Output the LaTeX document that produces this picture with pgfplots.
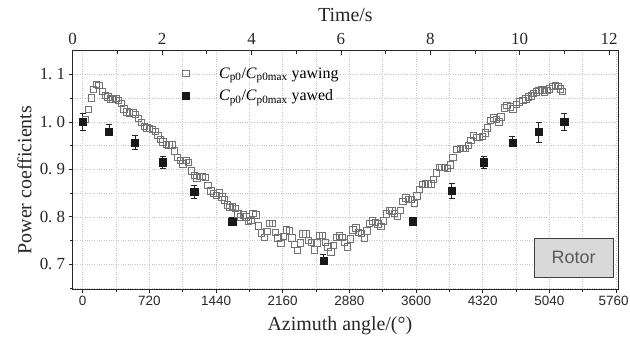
\documentclass[border=0pt]{standalone}
\usepackage{pgfplots}
\pgfplotsset{compat=1.18}
\usepackage{pgfplotstable}
\usepackage{fontspec}
\setmainfont{Liberation Serif}
\setsansfont{Liberation Sans}

\pgfplotstableread{
x y
25 1.005
61 1.027
90 1.051
115 1.069
144 1.079
176 1.077
212 1.065
241 1.056
270 1.053
295 1.049
324 1.048
356 1.050
385 1.046
414 1.039
446 1.028
475 1.021
503 1.019
540 1.020
565 1.016
601 1.008
630 0.999
662 0.991
691 0.988
720 0.987
752 0.984
781 0.980
810 0.972
835 0.963
864 0.958
900 0.953
929 0.952
961 0.952
990 0.939
1022 0.925
1051 0.919
1080 0.912
1112 0.919
1141 0.915
1170 0.897
1202 0.888
1231 0.882
1259 0.886
1292 0.886
1321 0.883
1350 0.867
1382 0.855
1411 0.849
1440 0.846
1472 0.851
1501 0.842
1530 0.836
1559 0.825
1588 0.820
1617 0.822
1646 0.818
1675 0.806
1704 0.800
1733 0.804
1762 0.800
1791 0.790
1814 0.793
1836 0.807
1868 0.804
1897 0.781
1926 0.766
1958 0.757
1987 0.770
2016 0.786
2048 0.786
2077 0.768
2106 0.756
2138 0.744
2167 0.759
2196 0.773
2228 0.771
2257 0.756
2286 0.742
2318 0.730
2347 0.745
2376 0.764
2408 0.764
2437 0.751
2466 0.747
2498 0.731
2527 0.745
2556 0.761
2588 0.761
2617 0.746
2646 0.737
2678 0.726
2707 0.740
2736 0.757
2768 0.760
2797 0.757
2826 0.747
2858 0.737
2887 0.754
2916 0.773
2948 0.777
2977 0.768
3006 0.765
3038 0.756
3067 0.771
3096 0.787
3128 0.792
3157 0.789
3186 0.785
3218 0.780
3247 0.792
3276 0.806
3308 0.814
3337 0.813
3366 0.808
3398 0.801
3427 0.814
3456 0.833
3488 0.840
3517 0.837
3546 0.837
3578 0.828
3607 0.844
3636 0.858
3668 0.868
3697 0.870
3726 0.870
3758 0.870
3787 0.879
3816 0.893
3848 0.905
3877 0.905
3906 0.904
3938 0.902
3967 0.910
3996 0.925
4039 0.942
4075 0.944
4104 0.944
4133 0.945
4165 0.951
4190 0.961
4219 0.972
4255 0.968
4284 0.968
4313 0.970
4345 0.977
4370 0.988
4399 1.004
4435 1.009
4464 1.005
4493 1.000
4514 1.011
4550 1.030
4579 1.035
4615 1.032
4644 1.028
4680 1.037
4716 1.042
4752 1.046
4784 1.049
4813 1.053
4842 1.055
4867 1.060
4896 1.063
4925 1.067
4957 1.068
4986 1.063
5011 1.067
5040 1.070
5069 1.075
5101 1.077
5130 1.075
5155 1.070
5180 1.065
}\yawing

\pgfplotstableread{
x y ep em
0 1.000 0.018 0.018
284 0.979 0.016 0.000
565 0.957 0.014 0.014
864 0.915 0.013 0.013
1205 0.853 0.014 0.014
1614 0.790 0.008 0.008
2599 0.707 0.014 0.000
3564 0.791 0.000 0.000
3985 0.855 0.015 0.015
4330 0.915 0.013 0.013
4640 0.957 0.012 0.000
4925 0.979 0.021 0.021
5201 1.001 0.018 0.018
}\yawed

\begin{document}
\begin{tikzpicture}
\useasboundingbox (-72.7bp,-54bp) rectangle (557.3bp,289bp);
\begin{axis}[
  at={(0,0)}, anchor=south west,
  scale only axis, width=545.3bp, height=238.3bp,
  xmin=-108, xmax=5781, ymin=0.648, ymax=1.150,
  axis line style={black!85, line width=0.8pt},
  xtick={0,720,1440,2160,2880,3600,4320,5040,5760},
  xticklabels={0,720,1440,2160,2880,3600,4320,5040,5760\hspace*{5bp}},
  minor xtick={360,1080,1800,2520,3240,3960,4680,5400},
  ytick={0.7,0.8,0.9,1.0,1.1},
  yticklabels={0.\ 7,0.\ 8,0.\ 9,1.\ 0,1.\ 1},
  minor ytick={0.65,0.75,0.85,0.95,1.05},
  xtick pos=bottom, ytick pos=left, tick align=outside,
  major tick length=4bp, minor tick length=2.5bp,
  tick style={black!85, line width=0.7pt},
  grid=both,
  major grid style={dotted, gray!45, line width=0.5pt},
  minor grid style={dotted, gray!45, line width=0.5pt},
  xticklabel style={font=\sffamily\fontsize{13.5}{13.5}\selectfont, color=black!85},
  yticklabel style={font=\fontsize{17}{17}\selectfont, color=black!85},
  xlabel={Azimuth angle/(°)},
  ylabel={Power coefficients},
  label style={font=\fontsize{20}{20}\selectfont, color=black!85},
  xlabel style={at={(axis description cs:0.49,-0.153)}, anchor=center},
  ylabel style={at={(axis description cs:-0.0885,0.457)}, anchor=center},
  legend style={at={(axis description cs:0.188,0.947)}, anchor=north west,
    draw=none, fill=none, font=\fontsize{16}{16}\selectfont, row sep=6bp},
  legend cell align=left,
  legend image code/.code={\path (0,0) (1.35cm,0); \draw[#1, only marks] plot coordinates {(0.25cm,0cm)};},
]
\addplot[only marks, mark=square, mark size=3.2bp,
  mark options={draw=black!55, fill=white, line width=0.6pt}] table[x=x,y=y] {\yawing};
\addlegendentry{\textit{C}\textsubscript{p0}/\textit{C}\textsubscript{p0max} yawing}
\addplot[only marks, mark=square*, mark size=3.6bp,
  mark options={draw=black!90, fill=black!90},
  error bars/.cd, y dir=both, y explicit,
  error bar style={black!85, line width=0.6pt},
  error mark options={rotate=90, mark size=3bp, black!85, line width=0.6pt}]
  table[x=x,y=y,y error plus=ep,y error minus=em] {\yawed};
\addlegendentry{\textit{C}\textsubscript{p0}/\textit{C}\textsubscript{p0max} yawed}
\draw[fill=black!15, draw=black!75, line width=0.8pt]
  (axis description cs:0.846,0.050) rectangle (axis description cs:0.991,0.214);
\node[font=\sffamily\fontsize{18}{18}\selectfont, color=black!65]
  at (axis description cs:0.9185,0.132) {Rotor};
\end{axis}
\begin{axis}[
  at={(0,0)}, anchor=south west,
  scale only axis, width=545.3bp, height=238.3bp,
  xmin=0, xmax=12.2, ymin=0, ymax=1,
  axis x line*=top, axis y line=none,
  axis line style={black!85, line width=0.8pt},
  xtick={0,2,4,6,8,10,12}, minor xtick={1,3,5,7,9,11},
  tick align=inside, major tick length=4bp, minor tick length=3bp,
  tick style={black!85, line width=0.7pt},
  xticklabels={0,2,4,6,8,10,12},
  xticklabel style={font=\fontsize{17}{17}\selectfont, color=black!85, yshift=3bp},
  xlabel={Time/s},
  xlabel style={font=\fontsize{20}{20}\selectfont, color=black!85, at={(axis description cs:0.5,1.15)}, anchor=center},
]
\end{axis}
\end{tikzpicture}
\end{document}
